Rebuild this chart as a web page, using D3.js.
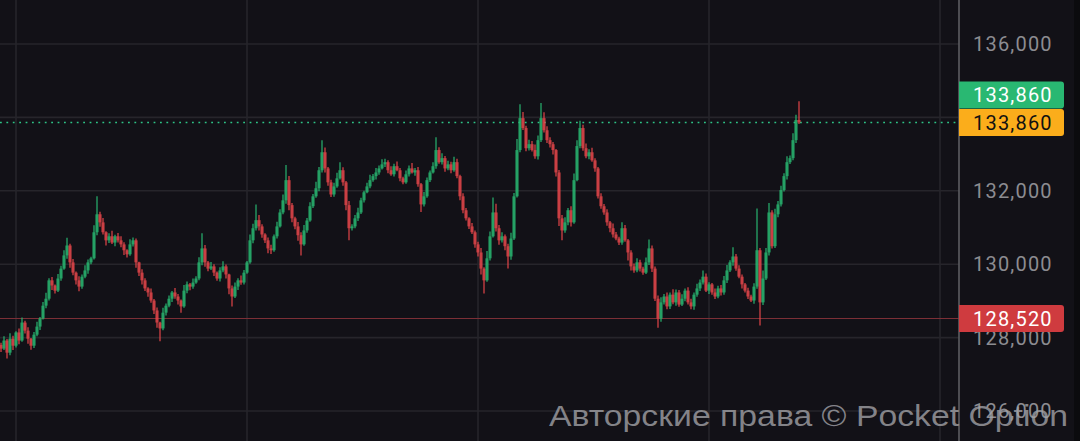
<!DOCTYPE html>
<html><head><meta charset="utf-8">
<script src="https://cdn.jsdelivr.net/npm/d3@7"></script>
<style>html,body{margin:0;padding:0;background:#121117;overflow:hidden}</style>
</head><body><svg id="c" width="1080" height="441"></svg>
<script>
// ---- data ----
const firstOpen = 127800;
const closes = [127700,127920,127590,127970,127780,128140,127920,128410,128190,127970,
127780,128080,128300,128520,128870,129060,129560,129420,129280,129610,
129880,130240,130510,130050,129770,129560,129390,129660,129830,130050,
130160,130870,131360,131140,130870,130650,130760,130590,130760,130650,
130540,130380,130270,130540,130650,130050,129770,129560,129340,129230,
129010,128740,128410,128250,128680,128870,129060,129230,129120,129010,
128850,129280,129450,129390,129500,129610,130050,130430,130050,129880,
129940,129770,129610,129830,129940,129720,129340,129120,129390,129560,
129500,129770,130050,130650,130980,131200,131030,130810,130650,130430,
130380,130760,131030,131410,131740,132290,131610,131250,131030,130790,
130540,130920,131190,131580,131850,132070,132560,133050,132610,132230,
131900,132120,132340,132560,132230,131610,130980,131030,131250,131410,
131740,131960,132120,132290,132400,132500,132610,132720,132780,132560,
132450,132670,132560,132340,132230,132450,132610,132500,132560,132180,
131630,131850,132290,132500,132670,133110,132780,132890,132610,132720,
132560,132780,132400,131850,131470,131250,131030,130870,130540,130320,
129880,129560,130160,130760,131410,130980,130650,130760,130490,130210,
130700,131850,133110,133980,133710,133160,133270,133110,132940,133380,
133980,133650,133380,133270,133110,132500,131250,130920,131140,131470,
131140,132290,133220,133710,133160,132940,133050,132830,132610,131850,
131580,131410,131140,130980,130810,130700,130590,130980,130650,130320,
129940,129830,130050,129880,129770,130050,130430,129880,129060,128520,
128960,129120,128850,129170,128960,129230,128900,129060,129280,128960,
128850,129170,129340,129500,129660,129280,129450,129230,129120,129340,
129230,129560,129830,130050,130210,129880,129660,129450,129280,129120,
129010,129390,130380,128960,129610,130320,131410,130490,131360,131630,
132020,132400,132780,132890,133380,133930,133860];
// upper / lower wick lengths (price units) per candle
const wickUp = [60,120,40,150,80,30,110,140,50,90,20,70,130,40,100,160,60,90,30,120,
80,140,200,50,90,30,110,60,140,80,40,190,250,70,120,30,80,150,40,90,
110,60,30,140,80,50,20,90,60,30,110,40,80,20,130,60,90,40,120,70,
30,150,80,40,110,60,140,220,90,40,120,60,30,90,140,50,20,80,110,60,
130,70,40,160,120,90,140,60,30,80,100,50,130,90,160,220,110,60,40,120,
80,150,70,110,60,180,90,210,130,40,70,100,150,170,80,40,110,60,90,130,
70,40,100,150,60,120,80,140,90,50,110,70,130,60,40,100,80,150,60,90,
30,120,70,50,110,190,80,130,60,100,70,150,90,40,80,60,30,90,50,70,
120,40,200,130,60,240,90,110,50,70,160,90,300,210,170,60,120,90,150,130,
240,160,110,80,60,30,70,90,140,60,110,180,160,200,90,130,80,120,60,40,
80,60,90,40,130,70,50,160,90,40,60,80,110,70,50,130,240,80,60,90,
140,70,110,60,150,80,70,120,60,90,100,60,130,80,150,90,60,40,110,70,
90,120,150,60,250,70,90,60,40,80,50,90,130,60,220,120,260,60,150,90,
120,80,160,70,190,140,80];
const wickDn = [90,40,160,70,120,50,100,30,80,140,110,60,40,90,30,70,50,120,80,40,
60,30,90,150,70,110,130,60,40,90,50,30,80,120,60,140,70,40,100,60,
80,130,90,40,60,150,90,110,70,120,60,100,140,200,50,80,40,90,60,110,
170,40,70,100,60,30,50,80,120,70,40,90,60,80,50,110,160,70,40,90,
60,50,30,40,80,60,110,90,70,130,100,40,60,30,50,90,140,110,80,150,
120,40,60,30,50,40,80,60,110,90,70,60,40,30,90,140,110,60,50,70,
40,60,30,50,40,90,60,30,70,80,40,60,30,80,50,40,60,30,90,70,
180,60,40,50,30,70,40,60,90,50,80,40,60,110,80,60,70,50,90,110,
160,80,40,60,30,90,120,60,110,150,90,40,30,60,50,80,60,40,70,90,
50,60,80,90,120,110,210,90,60,80,110,40,30,60,70,50,80,40,90,60,
70,60,90,110,80,50,70,60,40,90,110,60,50,80,60,40,70,90,60,150,
90,60,80,70,50,90,60,40,70,60,80,90,60,70,50,40,90,60,70,50,
80,60,70,40,90,60,40,110,50,70,40,90,60,100,70,40,80,60,50,80,
60,40,90,50,60,80,40];
// notable wick extremes: [candle index, high, low]
const spikes = [[7,128550,null],[22,130720,null],[32,131850,null],[53,null,127900],
[67,130840,null],[77,null,128850],[85,131630,null],[95,132700,null],[100,null,130240],
[107,133380,null],[113,132780,null],[116,null,130650],[140,null,131420],[145,133460,null],
[161,null,129200],[164,131820,null],[169,null,129880],[173,134360,null],[180,134390,null],
[187,null,130650],[193,133840,null],[209,null,130100],[216,130650,null],[219,null,128270],
[234,129830,null],[244,130430,null],[252,131520,null],[253,null,128330],[266,134440,null]];
const yTicks = [126000,128000,130000,132000,134000,136000];
const timeGrid = [5,82,159,236,313];
const lastPrice = 133860;
const supportPrice = 128520;
const watermark = "Авторские права © Pocket Option";

// ---- build candles ----
const candles = closes.map((c,i)=>{
  const o = i===0 ? firstOpen : closes[i-1];
  return {i, o, c, h: Math.max(o,c)+(wickUp[i]||0), l: Math.min(o,c)-(wickDn[i]||0)};
});
spikes.forEach(([i,h,l])=>{
  if(h!=null) candles[i].h=Math.max(candles[i].h,h);
  if(l!=null) candles[i].l=Math.min(candles[i].l,l);
});

const svg = d3.select("#c");
const W=1080,H=441, plotR=959;
const x = d3.scaleLinear().domain([0,313]).range([1,940]);
const y = d3.scaleLinear().domain([126000,136000]).range([411,44]);

svg.append("rect").attr("width",W).attr("height",H).attr("fill","#121117");
svg.append("rect").attr("x",1074).attr("width",6).attr("height",H).attr("fill","#0b0b0e");

// grid
svg.append("g").selectAll("line").data(yTicks).join("line")
  .attr("x1",0).attr("x2",plotR).attr("y1",d=>y(d)).attr("y2",d=>y(d))
  .attr("stroke","#26252b").attr("stroke-width",1.6);
svg.append("g").selectAll("line").data(timeGrid).join("line")
  .attr("x1",d=>x(d)).attr("x2",d=>x(d)).attr("y1",0).attr("y2",H)
  .attr("stroke","#26252b").attr("stroke-width",1.6);

// support line
svg.append("line").attr("x1",0).attr("x2",plotR).attr("y1",y(supportPrice)).attr("y2",y(supportPrice))
  .attr("stroke","#7c2f36").attr("stroke-width",1.2);
// current price dotted line
svg.append("line").attr("x1",0).attr("x2",plotR).attr("y1",y(lastPrice)).attr("y2",y(lastPrice))
  .attr("stroke","#2ec486").attr("stroke-width",1.6).attr("stroke-dasharray","1.8,4.6");

// candles
const up="#29b872", dn="#e8474b";
const g = svg.append("g").attr("opacity",0.9);
g.selectAll("line").data(candles).join("line")
  .attr("x1",d=>x(d.i)).attr("x2",d=>x(d.i))
  .attr("y1",d=>y(d.h)).attr("y2",d=>y(d.l))
  .attr("stroke",d=>d.c>=d.o?up:dn).attr("stroke-width",1.3);
g.selectAll("rect").data(candles).join("rect")
  .attr("x",d=>x(d.i)-1.6).attr("width",3.2)
  .attr("y",d=>y(Math.max(d.o,d.c)))
  .attr("height",d=>Math.max(1,Math.abs(y(d.o)-y(d.c))))
  .attr("fill",d=>d.c>=d.o?up:dn).attr("fill-opacity",0.88);

// axis border
svg.append("line").attr("x1",plotR).attr("x2",plotR).attr("y1",0).attr("y2",H)
  .attr("stroke","#5d5d62").attr("stroke-width",1.6);

// tick labels
const fmt = d3.format(",");
svg.append("g").selectAll("text").data(yTicks).join("text")
  .attr("x",973).attr("y",d=>y(d)).attr("dy","0.36em")
  .attr("fill","#8c8c91").attr("font-family","Roboto, sans-serif")
  .attr("font-size",20).attr("letter-spacing",1.2).text(d=>fmt(d));

// badges
function badge(yc, txt, bg, fg){
  const bg_ = svg.append("g");
  bg_.append("path")
    .attr("d",`M${plotR},${yc-13.5} H1061 q3,0 3,3 V${yc+10.5} q0,3 -3,3 H${plotR} Z`)
    .attr("fill",bg);
  bg_.append("text").attr("x",973).attr("y",yc).attr("dy","0.36em")
    .attr("fill",fg).attr("font-family","Roboto, sans-serif")
    .attr("font-size",20).attr("letter-spacing",1.2).text(txt);
}
badge(y(lastPrice)-27.5, fmt(lastPrice), "#29b872", "#ffffff");
badge(y(lastPrice), fmt(lastPrice), "#fbad1b", "#111111");
badge(y(supportPrice), fmt(supportPrice), "#cf3b3f", "#ffffff");

// watermark
svg.append("text").attr("x",549).attr("y",426)
  .attr("fill","#a3a3a8").attr("fill-opacity",0.78)
  .attr("font-family","Liberation Sans, Arial, sans-serif").attr("font-size",29)
  .attr("textLength",519).attr("lengthAdjust","spacingAndGlyphs")
  .text(watermark);
</script></body></html>
